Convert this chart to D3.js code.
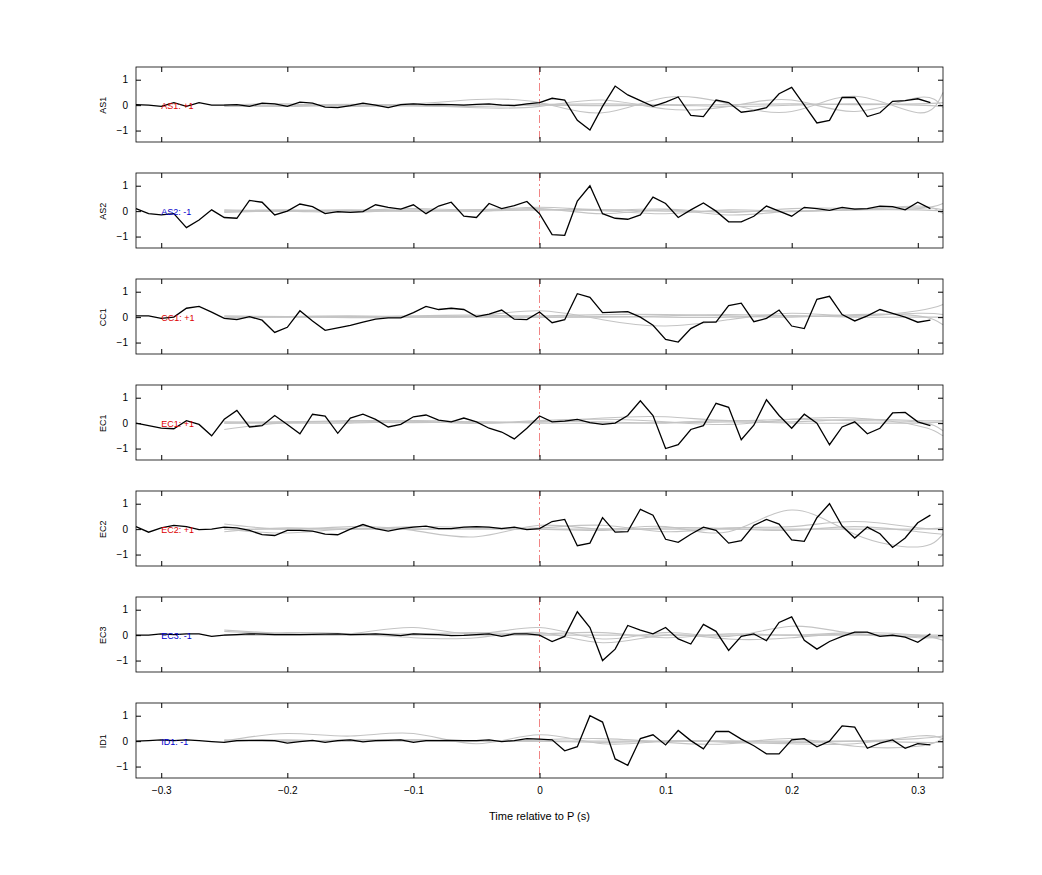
<!DOCTYPE html>
<html>
<head>
<meta charset="utf-8">
<script src="https://cdn.jsdelivr.net/npm/d3@7"></script>
<style>
body { margin: 0; background: #fff; }
text { font-family: "Liberation Sans", Arial, sans-serif; }
</style>
</head>
<body>
<svg width="1042" height="875"></svg>
<script>
// channel names and sign of each
const channels = ['AS1', 'AS2', 'CC1', 'EC1', 'EC2', 'EC3', 'ID1'];
const signs = ['+1', '-1', '+1', '+1', '+1', '-1', '-1'];

// black trace, one sample every 0.01 s from -0.32 to 0.31
const times = d3.range(64).map(i => +(-0.32 + i * 0.01).toFixed(2));
const traces = [
  [0.02,0,-0.05,0.1,-0.05,0.1,0,0,0.02,-0.05,0.08,0.05,-0.05,0.12,0.08,-0.08,-0.1,-0.02,0.08,0,-0.1,0.02,0.05,0.02,0.03,0.02,0,0.03,0.05,0,-0.02,0.05,0.1,0.27,0.2,-0.6,-0.98,-0.05,0.75,0.4,0.18,-0.05,0.12,0.32,-0.4,-0.45,0.2,0.1,-0.28,-0.22,-0.1,0.45,0.7,0,-0.7,-0.6,0.3,0.3,-0.45,-0.3,0.15,0.18,0.25,0.1],
  [0.1,-0.1,-0.15,-0.1,-0.65,-0.35,0.05,-0.25,-0.28,0.42,0.35,-0.15,0,0.28,0.18,-0.1,-0.02,-0.05,-0.02,0.25,0.15,0.08,0.25,-0.1,0.2,0.35,-0.2,-0.25,0.3,0.1,0.22,0.38,-0.1,-0.92,-0.95,0.4,1.0,-0.1,-0.28,-0.32,-0.15,0.55,0.3,-0.25,0.05,0.32,0,-0.42,-0.42,-0.2,0.2,0,-0.2,0.15,0.1,0.03,0.15,0.08,0.1,0.2,0.18,0.05,0.35,0.1],
  [0.05,0.05,-0.05,0,0.35,0.42,0.2,-0.05,-0.1,0.02,-0.12,-0.6,-0.4,0.25,-0.15,-0.52,-0.42,-0.32,-0.2,-0.08,-0.03,-0.03,0.18,0.42,0.3,0.35,0.3,0.02,0.12,0.28,-0.08,-0.1,0.2,-0.22,-0.1,0.92,0.78,0.18,0.2,0.22,0,-0.32,-0.88,-0.98,-0.45,-0.2,-0.2,0.45,0.55,-0.18,-0.05,0.28,-0.35,-0.45,0.7,0.82,0.1,-0.15,0.05,0.3,0.15,0,-0.2,-0.12],
  [0,-0.1,-0.2,-0.22,0.1,-0.05,-0.5,0.15,0.5,-0.15,-0.1,0.3,-0.05,-0.42,0.35,0.28,-0.4,0.2,0.35,0.15,-0.15,-0.05,0.25,0.32,0.12,0.05,0.2,0.05,-0.2,-0.35,-0.62,-0.2,0.28,0.05,0.08,0.15,0.02,-0.05,0,0.3,0.88,0.3,-1.0,-0.85,-0.25,-0.1,0.78,0.62,-0.65,-0.08,0.92,0.3,-0.2,0.35,0,-0.85,-0.15,0.05,-0.42,-0.2,0.4,0.42,0.05,-0.1],
  [0.1,-0.12,0.05,0.15,0.1,-0.02,0,0.08,0.05,-0.05,-0.22,-0.25,-0.05,-0.05,-0.08,-0.2,-0.22,0,0.18,0.02,-0.08,0.02,0.08,0.12,0.02,0.02,0.08,0.1,0.08,0.02,0.08,-0.02,0.02,0.3,0.38,-0.65,-0.55,0.45,-0.12,-0.1,0.78,0.55,-0.4,-0.52,-0.2,0.08,-0.05,-0.55,-0.45,0.15,0.38,0.2,-0.42,-0.48,0.45,1.0,0.12,-0.35,0.08,-0.18,-0.72,-0.35,0.25,0.55],
  [0,0,0.05,0.02,0.05,0.05,-0.05,0,0.02,0.05,0.04,0.02,0.02,0.02,0.03,0.04,0.05,0.02,0.03,0.05,0.02,-0.02,0.05,0.03,0.02,-0.02,-0.01,0.02,0.05,-0.05,0.05,0.05,0.0,-0.25,-0.05,0.92,0.3,-1.0,-0.55,0.38,0.2,0.05,0.3,-0.15,-0.35,0.42,0.15,-0.6,-0.05,0.05,-0.22,0.5,0.72,-0.2,-0.55,-0.25,-0.05,0.12,0.12,-0.05,0,-0.08,-0.28,0.05],
  [0,0.02,0.05,0.02,0.05,0.02,-0.02,-0.05,0.02,0.03,0.03,0.02,-0.08,-0.02,0.03,-0.05,0.02,0.05,-0.03,0.02,0.03,0.05,-0.05,0.02,0.02,0.03,0.02,0.02,0.05,-0.02,0.02,0.1,0.08,0.05,-0.38,-0.22,1.0,0.75,-0.7,-0.95,0.1,0.25,-0.15,0.42,0.02,-0.3,0.38,0.38,0.08,-0.18,-0.5,-0.5,0.05,0.1,-0.22,0,0.6,0.55,-0.28,-0.08,0.05,-0.28,-0.1,-0.15]
];

// grey smooth traces, knots every 0.05 s from -0.25 to 0.30, plus 0.32
const greyTimes = [-0.25,-0.2,-0.15,-0.1,-0.05,0,0.05,0.1,0.15,0.2,0.25,0.3,0.32];
const greys = [
  [[0,-0.05,0,0.05,0.22,0.1,-0.3,0.3,0.05,-0.25,0.35,-0.3,0.5],[0,0.05,-0.05,-0.02,-0.1,-0.05,0.2,-0.15,-0.05,0.2,-0.25,0.3,-0.1],[0.02,0,0.03,0,0.02,0.03,0.05,0.02,0.02,0.05,0.02,0.05,0.1],[-0.05,-0.03,0,-0.03,-0.05,0,-0.02,0,-0.05,0,0.05,0,-0.05]],
  [[0,0.05,0.02,0.1,0.05,0.15,0.05,0.08,-0.05,0.1,0.1,0.1,0.3],[-0.05,0,-0.05,0.05,0,0.1,-0.1,0.05,-0.15,0,0.05,0.2,-0.1],[0.05,0.02,0.05,0,0.05,0.05,0.02,-0.1,0.05,-0.02,0.08,0.15,0.05],[0,0,0,0,0,0.05,0.05,0,0,0,0.05,0.05,0]],
  [[0,0,0.02,0,0.05,0.25,-0.1,-0.35,-0.1,0.15,0.05,0.25,0.5],[0.05,0.02,0,0.05,0.08,0.05,0.1,0.1,0.05,0,0.1,0.05,-0.3],[-0.05,0.02,0.05,0.02,0,0,0,0.05,0.1,0.05,0.05,0.15,0.1],[0,0.02,-0.02,0,0.02,0,0.02,0,0,0.05,0,0,0]],
  [[-0.25,0.02,0.05,0.1,0.05,0.05,0.2,0.25,0.1,0.15,0.1,0.05,-0.3],[0.05,0.05,0.1,0.08,0,0.1,0.15,0.05,-0.05,0.15,0.2,-0.1,-0.5],[0,0,0,0.05,0,0.05,0.05,0.02,0.1,0.05,0.15,0.1,0.1],[0,0.05,0.05,0.02,0.05,0,0,0,0.05,0,0,0,0.05]],
  [[0.2,0,0.1,-0.05,-0.3,0.15,0,0.1,-0.1,0.75,-0.2,-0.7,-0.2],[0,-0.15,0.02,0,0.05,0.05,0.15,-0.1,0.05,0.1,0.3,0.05,0],[-0.1,0.05,0,0.1,0.05,0,-0.05,0.05,0.02,-0.05,0.1,-0.1,-0.2],[0,0,0,0,0,0,0,0,0,0,0,0,0.05]],
  [[0.2,0.05,0.05,0.3,0.05,0.3,-0.15,0.1,-0.05,0.35,0.05,-0.05,-0.05],[0,0.1,0.05,-0.1,-0.1,0.1,-0.3,0,-0.15,-0.1,0.05,-0.1,-0.05],[0.15,0.05,0.05,0.05,0.1,0.05,0.1,-0.1,0.05,0,0.1,0,-0.2],[0,0,0,0,0,0,0,0,0,0,0,0,0]],
  [[0,0.3,0.2,0.3,-0.1,0.25,-0.1,0,-0.05,-0.1,-0.1,0.2,0.1],[0.05,0,0.05,0.05,0,0.05,0.1,-0.05,-0.1,0.1,-0.2,-0.2,0.1],[0,0.05,0,0.05,0,0,-0.05,0,0,-0.05,0,0.1,0.2],[0,0,0,0,0,0,0,0,0,0,0,-0.05,-0.05]]
];

const xTicks = [-0.3, -0.2, -0.1, 0, 0.1, 0.2, 0.3];
const yTicks = [-1, 0, 1];

const svg = d3.select('svg');
const left = 136, right = 943, panelH = 75, top0 = 67, gap = 106;
const x = d3.scaleLinear().domain([-0.32, 0.32]).range([left, right]);

channels.forEach((ch, k) => {
  const top = top0 + k * gap;
  const y = d3.scaleLinear().domain([-1.45, 1.5]).range([top + panelH, top]);
  const g = svg.append('g');

  // zero dashed line
  g.append('line')
    .attr('x1', x(0)).attr('x2', x(0))
    .attr('y1', top).attr('y2', top + panelH)
    .attr('stroke', '#e66').attr('stroke-width', 0.8)
    .attr('stroke-dasharray', '8,3,2,3');

  const greyLine = d3.line().x((d, i) => x(greyTimes[i])).y(d => y(d)).curve(d3.curveNatural);
  greys[k].forEach(s => {
    g.append('path').attr('d', greyLine(s))
      .attr('fill', 'none').attr('stroke', '#c4c4c4').attr('stroke-width', 1.1);
  });

  const line = d3.line().x((d, i) => x(times[i])).y(d => y(d));
  g.append('path').attr('d', line(traces[k]))
    .attr('fill', 'none').attr('stroke', '#000').attr('stroke-width', 1.3);

  g.append('text')
    .attr('x', x(-0.3)).attr('y', y(0) + 3.5)
    .attr('font-size', 9)
    .attr('fill', signs[k] === '+1' ? '#d00' : '#00c')
    .text(ch + ': ' + signs[k]);

  // frame
  g.append('rect').attr('x', left).attr('y', top)
    .attr('width', right - left).attr('height', panelH)
    .attr('fill', 'none').attr('stroke', '#000').attr('stroke-width', 0.8);

  // inward ticks
  const xb = d3.axisBottom(x).tickValues(xTicks).tickSizeInner(-5).tickSizeOuter(0)
    .tickFormat(k === channels.length - 1 ? d3.format('') : '');
  const ax = g.append('g').attr('transform', `translate(0,${top + panelH})`).call(xb);
  ax.select('.domain').remove();
  ax.selectAll('text').attr('dy', '1.3em').attr('font-size', 10).attr('font-family', 'Liberation Sans, Arial');
  const xt = g.append('g').attr('transform', `translate(0,${top})`)
    .call(d3.axisTop(x).tickValues(xTicks).tickSizeInner(-5).tickSizeOuter(0).tickFormat(''));
  xt.select('.domain').remove();

  const yl = g.append('g').attr('transform', `translate(${left},0)`)
    .call(d3.axisLeft(y).tickValues(yTicks).tickSizeInner(-5).tickSizeOuter(0).tickFormat(d3.format('')));
  yl.select('.domain').remove();
  yl.selectAll('text').attr('x', -8).attr('font-size', 10).attr('font-family', 'Liberation Sans, Arial');
  const yr = g.append('g').attr('transform', `translate(${right},0)`)
    .call(d3.axisRight(y).tickValues(yTicks).tickSizeInner(-5).tickSizeOuter(0).tickFormat(''));
  yr.select('.domain').remove();

  g.append('text')
    .attr('transform', `translate(106,${y(0)}) rotate(-90)`)
    .attr('text-anchor', 'middle').attr('font-size', 9)
    .text(ch);
});

svg.append('text')
  .attr('x', x(0)).attr('y', 820)
  .attr('text-anchor', 'middle').attr('font-size', 11)
  .text('Time relative to P (s)');
</script>
</body>
</html>
